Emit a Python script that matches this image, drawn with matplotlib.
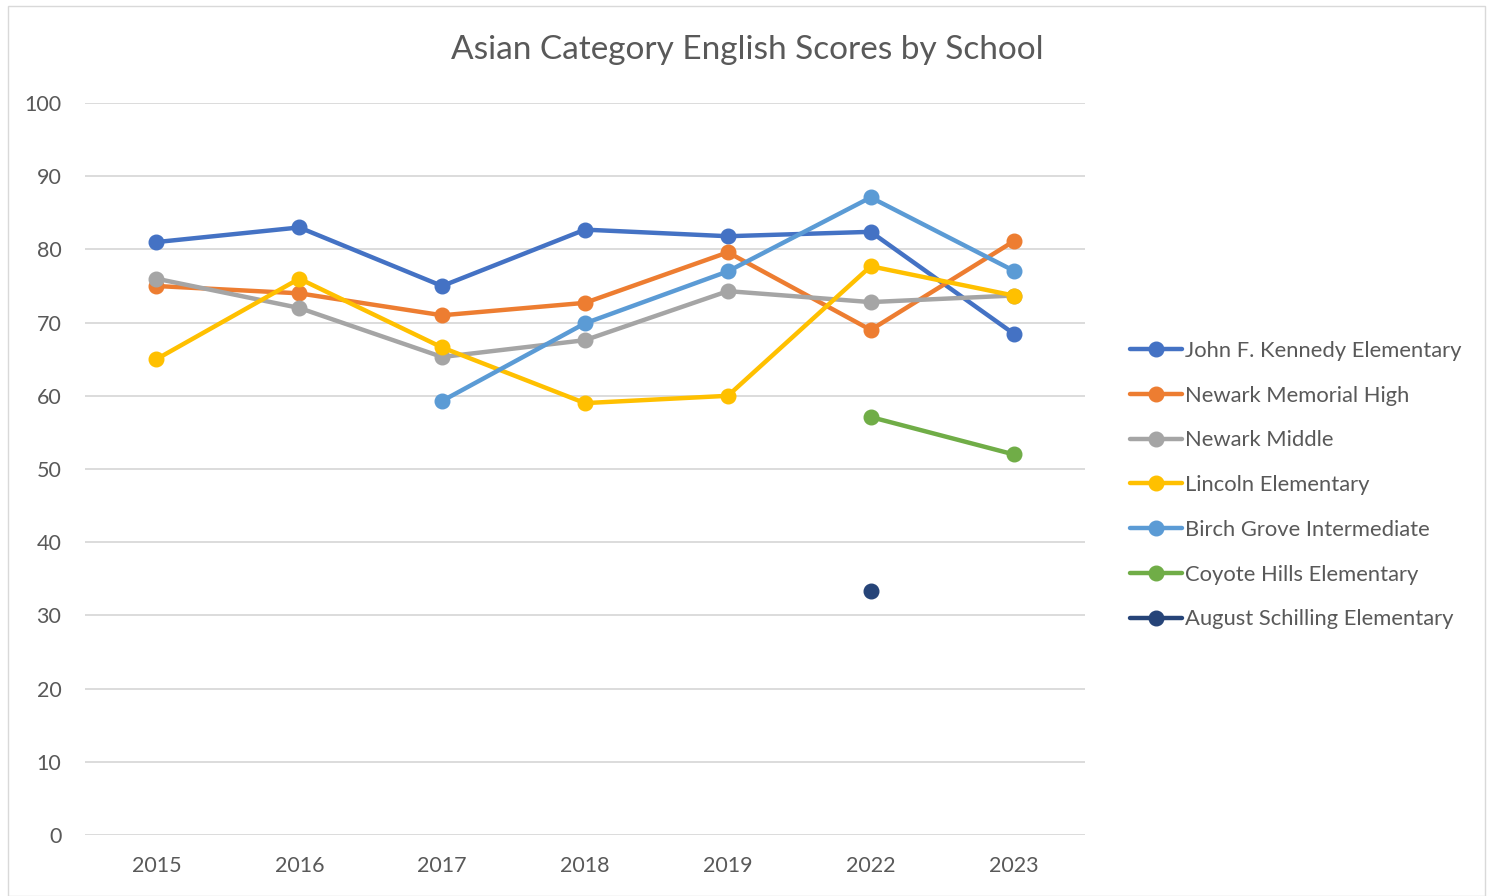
import matplotlib
matplotlib.use("Agg")
import matplotlib.pyplot as plt
import numpy as np

plt.rcParams['font.family'] = ['Lato', 'DejaVu Sans']

years = ["2015", "2016", "2017", "2018", "2019", "2022", "2023"]
nan = np.nan

#scores per school, nan where the school has no value
jfk = [81, 83, 75, 82.7, 81.8, 82.4, 68.5]
memorial = [75, 74, 71, 72.7, 79.6, 69, 81.1]
middle = [76, 72, 65.3, 67.6, 74.3, 72.8, 73.7]
lincoln = [65, 76, 66.6, 59, 60, 77.7, 73.7]
birch = [nan, nan, 59.3, 69.9, 77, 87.1, 77.1]
coyote = [nan, nan, nan, nan, nan, 57.1, 52]
schilling = [nan, nan, nan, nan, nan, 33.3, nan]

names = ["John F. Kennedy Elementary", "Newark Memorial High", "Newark Middle",
         "Lincoln Elementary", "Birch Grove Intermediate", "Coyote Hills Elementary",
         "August Schilling Elementary"]
series = [jfk, memorial, middle, lincoln, birch, coyote, schilling]
colors = ["#4472C4", "#ED7D31", "#A5A5A5", "#FFC000", "#5B9BD5", "#70AD47", "#264478"]

fig = plt.figure(figsize=(14.93, 8.96), dpi=100)
ax = fig.add_axes([85/1493, 61/896, 1000/1493, 732/896])

x = np.arange(len(years))
for vals, name, c in zip(series, names, colors):
    ax.plot(x, vals, color=c, lw=3.2, marker='o', markersize=10.5, label=name,
            solid_capstyle='round')

ax.set_xlim(-0.5, len(years) - 0.5)
ax.set_ylim(0, 100)
ax.set_yticks(range(0, 101, 10))
ax.set_xticks(x)
ax.set_xticklabels(years)
ax.grid(axis='y', color='#d9d9d9', lw=1.3)
ax.set_axisbelow(True)
for s in ax.spines.values():
    s.set_visible(False)
ax.tick_params(length=0, labelsize=15.5, colors='#595959')
ax.tick_params(axis='y', pad=17)
ax.tick_params(axis='x', pad=15)

fig.text(747/1493, 1 - 50/896, "Asian Category English Scores by School",
         ha='center', va='center', fontsize=24, color='#595959')

leg = ax.legend(loc='center left', bbox_to_anchor=(1.025, 0.478), frameon=False,
                fontsize=15.8, labelcolor='#595959', handlelength=2.4,
                handletextpad=0.1, labelspacing=1.13)

# light border around the chart
fig.patches.append(plt.Rectangle((8/1493, 0), 1477/1493, 1 - 6/896,
                                 transform=fig.transFigure, fill=False,
                                 edgecolor='#d9d9d9', lw=1))

fig.savefig("out.png", dpi=100)
